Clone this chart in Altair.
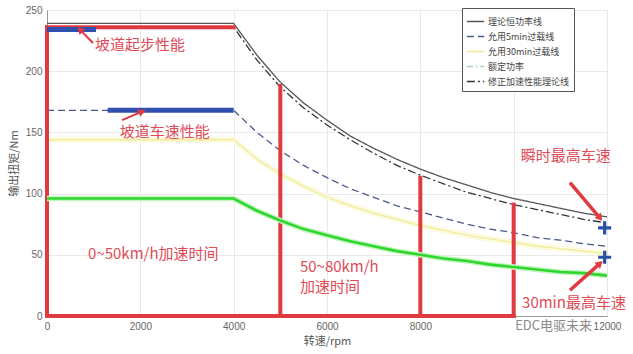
import math
import altair as alt
import pandas as pd

# ---------------- data ----------------
rpm = [0, 4000, 4500, 5000, 5500, 6000, 6500, 7000, 7500, 8000, 8500, 9000,
       9500, 10000, 10500, 11000, 11500, 12000]
theory = [239, 239, 213, 191, 174, 160, 147, 137, 128, 120, 113, 107, 101, 96, 92, 88, 84, 81]
min5 = [168, 168, 150, 135, 123, 113, 104, 97, 90, 85, 80, 75, 71, 68, 64, 62, 59, 57]
min30 = [144, 144, 128, 116, 106, 97, 90, 84, 79, 74, 70, 66, 63, 60, 57, 55, 53, 51]
rated = [96, 96, 86, 78, 71, 66, 61, 57, 53, 50, 47, 45, 42, 40, 38, 36, 35, 33]
corrected = [236, 236, 209, 187, 170, 156, 144, 133, 123, 115, 108, 101, 96, 91, 87, 83, 79, 76]

series_names = ["理论恒功率线", "允用5min过载线", "允用30min过载线", "额定功率", "修正加速性能理论线"]
series_values = [theory, min5, min30, rated, corrected]
series_colors = ["#555555", "#4b5a8c", "#f0ec9a", "#9fd3c7", "#333333"]
series_dash = [[1, 0], [7, 4], [1, 0], [6, 3, 1.5, 3], [8, 3, 2, 3]]
series_width = [1.3, 1.3, 3, 1.2, 1.2]

# red acceleration-region outline (rpm, Nm)
red_x1 = [0, 0, 5000, 8000, 10000, 0]
red_y1 = [0, 236, 0, 0, 0, 0]
red_x2 = [0, 4000, 5000, 8000, 10000, 10000]
red_y2 = [236, 236, 188, 113, 91, 0]

# blue performance bars
bar_x1 = [0, 1300]
bar_x2 = [1050, 4000]
bar_y = [234, 168]

# blue "+" top-speed markers
plus_x = [11950, 11950]
plus_y = [72, 48]

# annotations
ann_text = ["坡道起步性能", "坡道车速性能", "0~50km/h加速时间", "50~80km/h", "加速时间",
            "瞬时最高车速", "30min最高车速"]
ann_x = [1030, 1560, 880, 5420, 5420, 10150, 10180]
ann_y = [221, 150, 51, 40, 23.5, 131, 10.5]

# arrows: tail -> head
arr_tx = [986, 1607, 11207, 11207]
arr_ty = [223, 160, 109, 21]
arr_hx = [707, 2036, 11850, 11850]
arr_hy = [234, 167, 80, 43]
arr_w = [2, 2, 3.5, 3.5]

x_ticks = [0, 2000, 4000, 6000, 8000, 10000, 12000]
y_ticks = [0, 50, 100, 150, 200, 250]

W, H = 560, 306
X_DOM, Y_DOM = [0, 12000], [0, 250]

# ---------------- frames ----------------
rows = []
for name, vals in zip(series_names, series_values):
    for r, v in zip(rpm, vals):
        rows.append({"rpm": r, "val": v, "series": name})
df = pd.DataFrame(rows)
df_green = df[df.series == "额定功率"]
df_yellow = df[df.series == "允用30min过载线"]

red_df = pd.DataFrame({"x1": red_x1, "y1": red_y1, "x2": red_x2, "y2": red_y2})
bar_df = pd.DataFrame({"x1": bar_x1, "x2": bar_x2, "y": bar_y})
plus_df = pd.DataFrame({"x": plus_x, "y": plus_y})
ann_df = pd.DataFrame({"t": ann_text, "x": ann_x, "y": ann_y})

sx, sy = W / (X_DOM[1] - X_DOM[0]), H / (Y_DOM[1] - Y_DOM[0])
angles = []
for tx, ty, hx, hy in zip(arr_tx, arr_ty, arr_hx, arr_hy):
    dx = (hx - tx) * sx
    dy = -(hy - ty) * sy
    angles.append(math.degrees(math.atan2(dx, -dy)) % 360)
arr_df = pd.DataFrame({"tx": arr_tx, "ty": arr_ty, "hx": arr_hx, "hy": arr_hy,
                       "w": arr_w, "ang": angles})

xs = alt.Scale(domain=X_DOM, nice=False)
ys = alt.Scale(domain=Y_DOM, nice=False)

x_axis = alt.Axis(values=x_ticks, format="d", title="转速/rpm", labelFontSize=10, labelColor="#666",
                  labelFont="Liberation Sans", titleFont="Noto Sans CJK SC",
                  titleFontSize=11, titleColor="#555", titleFontWeight="normal",
                  grid=True, gridColor="#e9e9e9", domainColor="#999", tickSize=0,
                  labelPadding=5, titlePadding=4, labelFlush=False,
                  labelExpr="datum.value == 10000 ? '' : datum.label")
y_axis = alt.Axis(values=y_ticks, format="d", title="输出扭矩/Nm", labelFontSize=10, labelColor="#666",
                  labelFont="Liberation Sans", titleFont="Noto Sans CJK SC",
                  titleFontSize=11, titleColor="#555", titleFontWeight="normal",
                  grid=True, gridColor="#e9e9e9", domainColor="#999", tickSize=0,
                  labelPadding=5, titlePadding=6, labelFlush=False)

X = alt.X("rpm:Q", scale=xs, axis=x_axis)
Y = alt.Y("val:Q", scale=ys, axis=y_axis)

leg = alt.Legend(title=None, orient="none", legendX=415, legendY=-2,
                 fillColor="white", strokeColor="#555", padding=4,
                 labelFont="Noto Sans CJK SC", labelFontSize=9, labelColor="#444",
                 symbolType="stroke", symbolSize=300, rowPadding=0, labelOffset=3)

lines = alt.Chart(df).mark_line(clip=True).encode(
    x=X, y=Y,
    color=alt.Color("series:N", scale=alt.Scale(domain=series_names, range=series_colors), legend=leg),
    strokeDash=alt.StrokeDash("series:N", scale=alt.Scale(domain=series_names, range=series_dash), legend=leg),
    strokeWidth=alt.StrokeWidth("series:N", scale=alt.Scale(domain=series_names, range=series_width), legend=leg),
    detail="series:N",
)

yellow_glow = alt.Chart(df_yellow).mark_line(color="#fcfae0", strokeWidth=6).encode(
    x=alt.X("rpm:Q", scale=xs), y=alt.Y("val:Q", scale=ys))

green_glow = alt.Chart(df_green).mark_line(color="#c4f5be", strokeWidth=5.5).encode(
    x=alt.X("rpm:Q", scale=xs), y=alt.Y("val:Q", scale=ys))
green = alt.Chart(df_green).mark_line(color="#2fd62f", strokeWidth=2.6).encode(
    x=alt.X("rpm:Q", scale=xs), y=alt.Y("val:Q", scale=ys))

red = alt.Chart(red_df).mark_rule(color="#e0393f", strokeWidth=4, strokeCap="square").encode(
    x=alt.X("x1:Q", scale=xs), y=alt.Y("y1:Q", scale=ys), x2="x2:Q", y2="y2:Q")

bars = alt.Chart(bar_df).mark_rule(color="#3050b0", strokeWidth=5).encode(
    x=alt.X("x1:Q", scale=xs), x2="x2:Q", y=alt.Y("y:Q", scale=ys))

plus = alt.Chart(plus_df).mark_point(shape="M-1,0L1,0M0,-1L0,1", size=170, filled=False,
                                     color="#2a4fa8", strokeWidth=3.2, opacity=1).encode(
    x=alt.X("x:Q", scale=xs), y=alt.Y("y:Q", scale=ys))

arrow_lines = alt.Chart(arr_df).mark_rule(color="#e0393f").encode(
    x=alt.X("tx:Q", scale=xs), y=alt.Y("ty:Q", scale=ys), x2="hx:Q", y2="hy:Q",
    strokeWidth=alt.StrokeWidth("w:Q", scale=None, legend=None))
arrow_heads = alt.Chart(arr_df).mark_point(shape="triangle-up", size=70, filled=True,
                                           color="#e0393f", opacity=1).encode(
    x=alt.X("hx:Q", scale=xs), y=alt.Y("hy:Q", scale=ys),
    angle=alt.Angle("ang:Q", scale=None))

texts = alt.Chart(ann_df).mark_text(align="left", baseline="middle", font="Noto Sans CJK SC",
                                    fontSize=15, color="#e04a55").encode(
    x=alt.X("x:Q", scale=xs), y=alt.Y("y:Q", scale=ys), text="t:N")

wm_df = pd.DataFrame({"x": [11680], "y": [-8.5], "t": ["EDC电驱未来"]})
watermark = alt.Chart(wm_df).mark_text(align="right", font="Noto Sans CJK SC", fontSize=13,
                                       color="#8a8a8a").encode(
    x=alt.X("x:Q", scale=xs), y=alt.Y("y:Q", scale=ys), text="t:N")

chart = alt.layer(
    yellow_glow, lines, red, bars, green_glow, green, plus, arrow_lines, arrow_heads, texts, watermark
).properties(
    width=W, height=H,
    autosize=alt.AutoSizeParams(type="none"),
    padding={"left": 47, "top": 10, "right": 26, "bottom": 38},
    background="white",
).configure_view(stroke="#aaa", strokeWidth=1)

chart.save("out.html", embed_options={"renderer": "svg", "actions": False})
